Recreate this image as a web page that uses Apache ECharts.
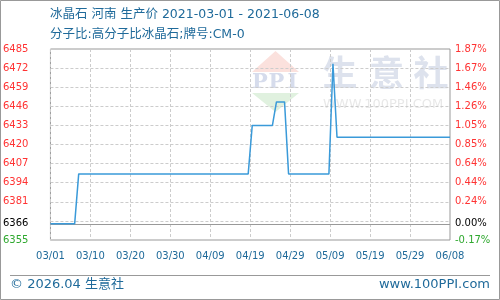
<!DOCTYPE html>
<html>
<head>
<meta charset="utf-8">
<script src="https://cdn.jsdelivr.net/npm/echarts@6/dist/echarts.min.js"></script>
<style>
html,body{margin:0;padding:0;background:#fff;}
#chart{width:500px;height:300px;}
</style>
</head>
<body>
<div id="chart"></div>
<script>
// Data (change points of a daily price series)
const dates = ['2021-03-01','2021-03-07','2021-03-08','2021-04-19','2021-04-20','2021-04-25','2021-04-26','2021-04-28','2021-04-29','2021-05-09','2021-05-10','2021-05-11','2021-06-08'];
const prices = [6366,6366,6400,6400,6433,6433,6449,6449,6400,6400,6475,6425,6425];
const xTickLabels = ['03/01','03/10','03/20','03/30','04/09','04/19','04/29','05/09','05/19','05/29','06/08'];
const basePrice = 6366;
const yMin = 6355, yMax = 6485, yStep = 13;
const titleText = '冰晶石 河南 生产价 2021-03-01 - 2021-06-08';
const subTitleText = '分子比:高分子比冰晶石;牌号:CM-0';
const footerLeft = '© 2026.04 生意社';
const footerRight = 'www.100PPI.com';

const startMs = Date.UTC(2021, 2, 1);
function dayIndex(s) {
  const p = s.split('-').map(Number);
  return (Date.UTC(p[0], p[1] - 1, p[2]) - startMs) / 86400000;
}
const seriesData = dates.map((d, i) => [dayIndex(d), prices[i]]);
const totalDays = dayIndex(dates[dates.length - 1]);
const xStep = totalDays / (xTickLabels.length - 1);

const RED = '#ff3333', GREEN = '#2fa82f', BLACK = '#000000', BLUE = '#1f6a9a';
const FONT = 'DejaVu Sans';
const CJK = '"DejaVu Sans","Noto Sans CJK SC",sans-serif';

function colorFor(v) {
  v = Number(v);
  return v > basePrice ? RED : (v < basePrice ? GREEN : BLACK);
}

const chart = echarts.init(document.getElementById('chart'));
chart.setOption({
  animation: false,
  grid: { left: 50, right: 50, top: 49, bottom: 60, show: true, borderColor: '#999', borderWidth: 1, backgroundColor: 'transparent' },
  xAxis: {
    type: 'value', min: 0, max: totalDays, interval: xStep,
    axisLine: { show: false }, axisTick: { show: false },
    splitLine: { show: true, lineStyle: { color: '#cccccc', type: [3, 2], width: 1 } },
    axisLabel: {
      margin: 11, color: BLUE, fontFamily: FONT, fontSize: 10,
      formatter: v => xTickLabels[Math.round(v / xStep)] || ''
    }
  },
  yAxis: [{
    type: 'value', min: yMin, max: yMax, interval: yStep, position: 'left',
    axisLine: { show: false }, axisTick: { show: false },
    splitLine: { show: true, lineStyle: { color: '#cccccc', type: [3, 2], width: 1 } },
    axisLabel: {
      margin: 22, fontFamily: FONT, fontSize: 10,
      color: v => colorFor(v),
      formatter: v => (Math.abs(v - basePrice) < 3 && v !== basePrice) ? '' : String(v)
    }
  }, {
    type: 'value', min: yMin, max: yMax, interval: yStep, position: 'right',
    axisLine: { show: false }, axisTick: { show: false }, splitLine: { show: false },
    axisLabel: {
      margin: 5, fontFamily: FONT, fontSize: 10,
      color: v => colorFor(v),
      formatter: v => (Math.abs(v - basePrice) < 3 && v !== basePrice) ? '' : ((v - basePrice) / basePrice * 100).toFixed(2) + '%'
    }
  }],
  series: [{
    type: 'line', data: seriesData, showSymbol: false, symbol: 'none',
    lineStyle: { color: '#3a9ad9', width: 1.5 }, z: 5,
    markLine: {
      silent: true, symbol: 'none', animation: false,
      lineStyle: { color: '#999', type: 'solid', width: 1 },
      data: [
        { yAxis: basePrice, label: { show: true, position: 'start', distance: 22, formatter: String(basePrice), color: BLACK, fontFamily: FONT, fontSize: 10 } },
        { yAxis: basePrice, label: { show: true, position: 'end', distance: 5, formatter: '0.00%', color: BLACK, fontFamily: FONT, fontSize: 10 } }
      ]
    }
  }],
  graphic: [
    { type: 'rect', shape: { x: 0.5, y: 0.5, width: 499, height: 299 }, style: { fill: 'none', stroke: '#999', lineWidth: 1 }, silent: true },
    { type: 'line', shape: { x1: 10, y1: 275.5, x2: 490, y2: 275.5 }, style: { stroke: '#999', lineWidth: 1 }, silent: true },
    { type: 'text', x: 50, y: 15, style: { text: titleText, font: '12.5px ' + CJK, fill: BLUE, verticalAlign: 'middle' } },
    { type: 'text', x: 50, y: 35, style: { text: subTitleText, font: '12.5px ' + CJK, fill: BLUE, verticalAlign: 'middle' } },
    { type: 'text', x: 10, y: 285, style: { text: footerLeft, font: '13px ' + CJK, fill: BLUE, verticalAlign: 'middle' } },
    { type: 'text', x: 490, y: 285, style: { text: footerRight, font: '13px ' + CJK, fill: BLUE, verticalAlign: 'middle', align: 'right' } },
    // watermark
    { type: 'polygon', z: -10, shape: { points: [[252, 72], [275.5, 51], [299, 72]] }, style: { fill: '#fbe1dd' }, silent: true },
    { type: 'polygon', z: -10, shape: { points: [[252, 93], [299, 93], [275.5, 112]] }, style: { fill: '#e0f1df' }, silent: true },
    { type: 'text', z: -10, x: 260, y: 83, style: { text: 'P', font: 'bold 21px "DejaVu Serif"', fill: '#d6dcec', align: 'center', verticalAlign: 'middle' }, silent: true },
    { type: 'text', z: -10, x: 276.5, y: 83, style: { text: 'P', font: 'bold 21px "DejaVu Serif"', fill: '#d6dcec', align: 'center', verticalAlign: 'middle' }, silent: true },
    { type: 'text', z: -10, x: 292.5, y: 83, style: { text: 'I', font: 'bold 21px "DejaVu Serif"', fill: '#d6dcec', align: 'center', verticalAlign: 'middle' }, silent: true },
    { type: 'text', z: -10, x: 340, y: 73, style: { text: '生', font: 'bold 35px "Noto Sans CJK SC"', fill: '#dde2ed', align: 'center', verticalAlign: 'middle' }, silent: true },
    { type: 'text', z: -10, x: 386.5, y: 73, style: { text: '意', font: 'bold 35px "Noto Sans CJK SC"', fill: '#dde2ed', align: 'center', verticalAlign: 'middle' }, silent: true },
    { type: 'text', z: -10, x: 431, y: 73, style: { text: '社', font: 'bold 35px "Noto Sans CJK SC"', fill: '#dde2ed', align: 'center', verticalAlign: 'middle' }, silent: true },
    { type: 'text', z: -10, x: 323, y: 105, style: { text: 'WWW.100PPI.COM', font: '13px "DejaVu Sans"', fill: '#e8e8e8', verticalAlign: 'middle' }, silent: true }
  ]
});
</script>
</body>
</html>
